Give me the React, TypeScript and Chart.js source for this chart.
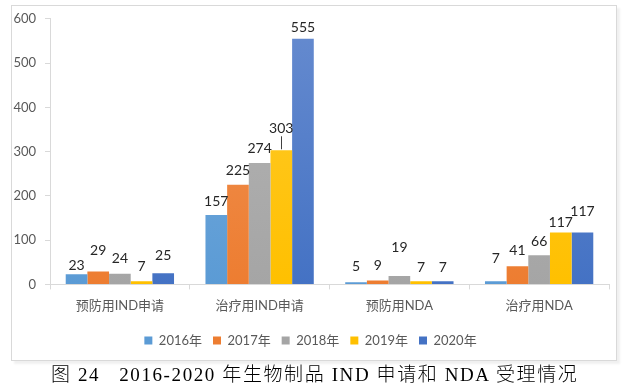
import React, { useEffect, useRef } from "react";
import { Chart, registerables } from "chart.js";

Chart.register(...registerables);

const categories = ["预防用IND申请", "治疗用IND申请", "预防用NDA", "治疗用NDA"];
const seriesNames = ["2016年", "2017年", "2018年", "2019年", "2020年"];
const values2016 = [23, 157, 5, 7];
const values2017 = [29, 225, 9, 41];
const values2018 = [24, 274, 19, 66];
const values2019 = [7, 303, 7, 117];
const values2020 = [25, 555, 7, 117];
const seriesValues = [values2016, values2017, values2018, values2019, values2020];
const yMin = 0;
const yMax = 600;
const yStep = 100;

const colors = ["#5B9BD5", "#ED7D31", "#A5A5A5", "#FFC000", "#4472C4"];
// label centre distance above bar top (px) per series / category
const labelLift = [
  [9, 13, 16, 23],
  [21, 14, 15, 16],
  [15, 15, 29, 14],
  [15, 22, 14, 10],
  [18, 11, 14, 21],
];
const leaderLines = [[3, 1]];

const FONT = "Lato, 'Noto Sans CJK SC', sans-serif";

function lighten(hex: string, amt: number) {
  const n = parseInt(hex.slice(1), 16);
  const r = (n >> 16) & 255, g = (n >> 8) & 255, b = n & 255;
  const f = (c: number) => Math.round(c + (255 - c) * amt);
  return `rgb(${f(r)},${f(g)},${f(b)})`;
}

const labelPlugin = {
  id: "barLabels",
  afterDatasetsDraw(chart: any) {
    const ctx = chart.ctx;
    ctx.save();
    ctx.font = `14px ${FONT}`;
    ctx.fillStyle = "#262626";
    ctx.textAlign = "center";
    ctx.textBaseline = "middle";
    chart.data.datasets.forEach((ds: any, di: number) => {
      const meta = chart.getDatasetMeta(di);
      meta.data.forEach((el: any, i: number) => {
        const lift = labelLift[di][i];
        ctx.fillText(String(ds.data[i]), el.x, el.y - lift);
      });
    });
    ctx.strokeStyle = "#404040";
    ctx.lineWidth = 1;
    leaderLines.forEach(([di, i]) => {
      const el = chart.getDatasetMeta(di).data[i];
      const lift = labelLift[di][i];
      ctx.beginPath();
      ctx.moveTo(Math.round(el.x) + 0.5, el.y - lift + 8);
      ctx.lineTo(Math.round(el.x) + 0.5, el.y - 1);
      ctx.stroke();
    });
    ctx.restore();
  },
};

export default function App() {
  const ref = useRef<HTMLCanvasElement>(null);
  useEffect(() => {
    document.body.style.margin = "0";
    const canvas = ref.current!;
    const chart = new Chart(canvas, {
      type: "bar",
      data: {
        labels: categories,
        datasets: seriesNames.map((name, si) => ({
          label: name,
          data: seriesValues[si],
          backgroundColor: (c: any) => {
            const area = c.chart.chartArea;
            if (!area) return colors[si];
            const g = c.chart.ctx.createLinearGradient(0, area.top, 0, area.bottom);
            g.addColorStop(0, lighten(colors[si], 0.18));
            g.addColorStop(1, colors[si]);
            return g;
          },
          borderWidth: 0,
          categoryPercentage: 0.775,
          barPercentage: 1.0,
        })),
      },
      options: {
        responsive: false,
        animation: false,
        devicePixelRatio: 1,
        layout: { padding: { top: 0, right: 7, left: 0, bottom: 6 } },
        plugins: {
          tooltip: { enabled: false },
          legend: {
            position: "bottom",
            labels: {
              boxWidth: 8,
              boxHeight: 8,
              padding: 11,
              color: "#595959",
              font: { size: 13, family: FONT },
              generateLabels: (ch: any) =>
                seriesNames.map((n, i) => ({
                  text: n,
                  fillStyle: colors[i],
                  strokeStyle: colors[i],
                  lineWidth: 0,
                  hidden: false,
                  datasetIndex: i,
                  fontColor: "#595959",
                })),
            },
          },
        },
        scales: {
          x: {
            grid: {
              offset: true,
              drawOnChartArea: false,
              drawTicks: true,
              tickLength: 5,
              color: "#d9d9d9",
            },
            border: { color: "#d9d9d9" },
            ticks: { color: "#595959", font: { size: 13, family: FONT }, padding: 9 },
          },
          y: {
            min: yMin,
            max: yMax,
            ticks: {
              stepSize: yStep,
              color: "#595959",
              font: { size: 13, family: FONT },
              padding: 9,
            },
            grid: {
              drawOnChartArea: false,
              drawTicks: true,
              tickLength: 5,
              color: "#d9d9d9",
            },
            border: { color: "#d9d9d9" },
            afterFit: (s: any) => {
              s.width = 38;
            },
          },
        },
      },
      plugins: [labelPlugin],
    } as any);
    return () => chart.destroy();
  }, []);

  return (
    <div style={{ position: "relative", width: 635, height: 389, background: "#fff", overflow: "hidden" }}>
      <div
        style={{
          position: "absolute",
          left: 11,
          top: 5,
          width: 604,
          height: 354,
          border: "1px solid #d9d9d9",
          boxShadow: "3px 3px 2px rgba(0,0,0,0.06)",
        }}
      >
        <canvas
          ref={ref}
          width={604}
          height={361}
          style={{ display: "block", position: "absolute", left: 0, top: -4 }}
        />
      </div>
      <div
        style={{
          position: "absolute",
          left: 51,
          top: 362,
          whiteSpace: "pre",
          fontFamily: "'Liberation Serif', 'Noto Sans CJK SC', serif",
          fontSize: 19,
          fontWeight: 300,
          letterSpacing: "1.6px",
          lineHeight: "26px",
          color: "#000",
        }}
      >
        {"图 24   2016-2020 年生物制品 IND 申请和 NDA 受理情况"}
      </div>
    </div>
  );
}
